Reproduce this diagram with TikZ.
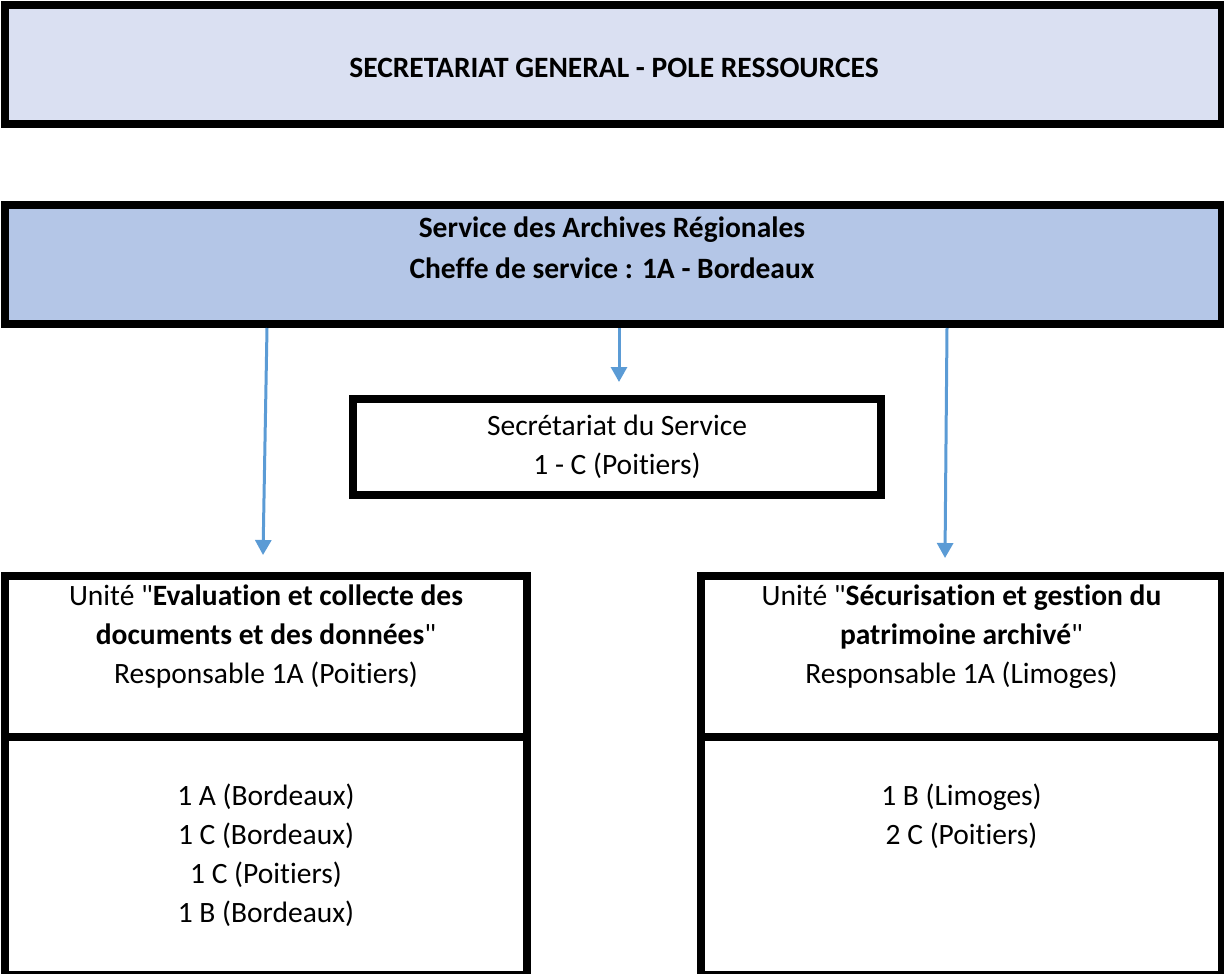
\documentclass[tikz,border=0pt]{standalone}
\usepackage{fontspec}
\setmainfont{Carlito}[Ligatures={TeXOff,NoCommon},Contextuals=NoAlternate]
\usepackage{tikz}
\usetikzlibrary{positioning,arrows.meta,calc}
\definecolor{palebleu}{HTML}{DAE0F2}
\definecolor{bleuclair}{HTML}{B4C6E7}
\definecolor{bleufleche}{HTML}{5B9BD5}

\tikzset{
  boite/.style={draw, line width=8pt, inner sep=0pt, align=center},
  texte/.style={inner sep=0pt, align=center, font=\fontsize{29.5}{39}\selectfont},
  fleche/.style={draw=bleufleche, line width=3pt, -{Triangle[width=16pt,length=15pt]}}
}

\begin{document}
\begin{tikzpicture}[x=1pt,y=1pt]
\useasboundingbox (0,0) rectangle (1224,-974);
\clip (0,0) rectangle (1224,-974);
% en-tete
\node [boite, fill=palebleu, minimum width=1217pt, minimum height=119pt] (sgpr) at (613.5,-64.5) {};
\node [texte, font=\bfseries\fontsize{29.5}{39}\selectfont] (sgprtxt) at (614,-68) {SECRETARIAT GENERAL - POLE RESSOURCES};
% service
\node [boite, fill=bleuclair, minimum width=1217pt, minimum height=119pt] (srv) at (613.5,-264.5) {};
\node [texte, font=\bfseries\fontsize{29.5}{41}\selectfont] (srvtxt) at (612,-248) {Service des Archives Régionales\\Cheffe de service : 1A - Bordeaux};
% secretariat
\node [boite, minimum width=528pt, minimum height=96pt] (secr) at (617,-447) {};
\node [texte] (secrtxt) at (secr.center) {Secrétariat du Service\\1 - C (Poitiers)};
% unites
\node [boite, minimum width=522pt, minimum height=161pt] (evalhd) at (266,-656.5) {};
\node [boite, minimum width=522pt, minimum height=238pt] (evalbd) at (266,-856) {};
\node [boite, minimum width=521pt, minimum height=161pt] (secuhd) at (961.5,-656.5) {};
\node [boite, minimum width=521pt, minimum height=238pt] (secubd) at (961.5,-856) {};
\node [texte] (evaltxt) at ($(evalhd.north)+(0,-65)$) {Unité "\textbf{Evaluation et collecte des}\\\textbf{documents et des données}"\\Responsable 1A (Poitiers)};
\node [texte] (secutxt) at ($(secuhd.north)+(0,-65)$) {Unité "\textbf{Sécurisation et gestion du}\\\textbf{patrimoine archivé}"\\Responsable 1A (Limoges)};
\node [texte] (evalagents) at (266,-855) {1 A (Bordeaux)\\1 C (Bordeaux)\\1 C (Poitiers)\\1 B (Bordeaux)};
\node [texte] (secuagents) at (961.5,-816) {1 B (Limoges)\\2 C (Poitiers)};
% fleches
\draw [fleche] ($(srv.south west)+(266,0)$) -- ($(evalhd.north west)+(262,17)$);
\draw [fleche] ($(srv.south)+(5.5,0)$) -- ($(secr.north)+(2,13)$);
\draw [fleche] ($(srv.south west)+(946,0)$) -- ($(secuhd.north west)+(248,14)$);
\end{tikzpicture}
\end{document}
